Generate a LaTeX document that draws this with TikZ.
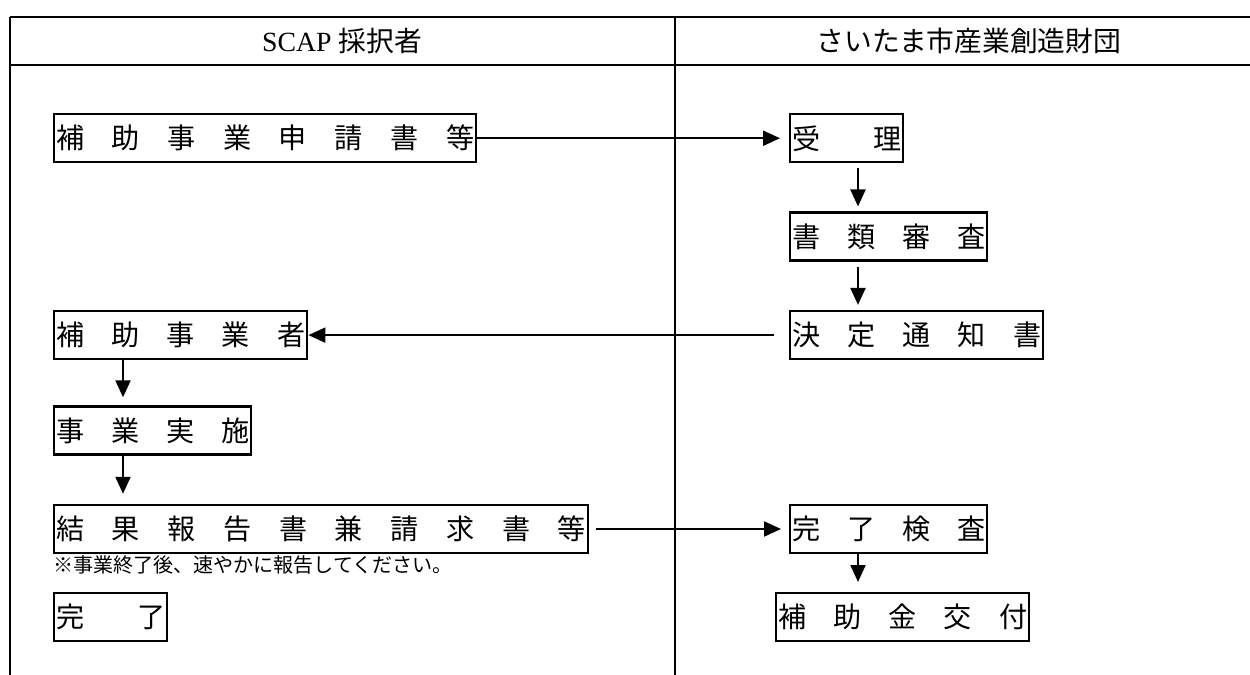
\documentclass[tikz,border=0pt]{standalone}
\usepackage{fontspec}
\setmainfont{Liberation Serif}
\newfontfamily\jp{Noto Sans CJK JP}
\usetikzlibrary{arrows.meta,positioning}
\newcommand{\spread}[2]{\makebox[#1][s]{#2}}
\tikzset{
	stepbox/.style={
		draw,
		line width=1.4pt,
		minimum height=0.96cm,
		inner xsep=0.04cm,
		inner ysep=0pt,
		anchor=north west,
		font=\jp\fontsize{16pt}{18pt}\selectfont,
	},
	head/.style={
		font=\fontsize{15.8pt}{18pt}\selectfont,
	},
	memo/.style={
		anchor=west,
		inner sep=0pt,
		font=\jp\fontsize{11.4pt}{14pt}\selectfont,
	},
	arc/.style={
		-{Triangle[length=0.34cm,width=0.3cm]},
		line width=1.2pt,
	},
	frame/.style={
		line width=1.4pt,
	}
}

\begin{document}
\begin{tikzpicture}[x=0.02cm,y=-0.02cm]
	\useasboundingbox (0,0) rectangle (1250,675);
	% table
	\draw[frame] (10,17) -- (1250,17);
	\draw[frame] (10,65) -- (1250,65);
	\draw[frame] (10,17) -- (10,675);
	\draw[frame] (675,17) -- (675,675);
	\node[head] (lhead) at (342,41) {SCAP {\jp 採択者}};
	\node[head] (rhead) at (969,41) {\jp さいたま市産業創造財団};

	\coordinate (lcol) at (123,0);
	\coordinate (rcol) at (858,0);

	\node[stepbox] (apply) at (53,113) {\spread{8.36cm}{補 助 事 業 申 請 書 等}};
	\node[stepbox] (recv) at (789,113) {\spread{2.18cm}{受 理}};
	\node[
      stepbox,
      below=0.96cm of recv.south west,
      anchor=north west
    ] (review) {\spread{3.86cm}{書 類 審 査}};
	\node[
      stepbox,
      below=0.96cm of review.south west,
      anchor=north west
    ] (notice) {\spread{4.98cm}{決 定 通 知 書}};
	\node[stepbox] (grantee) at (notice.north -| apply.west) {\spread{4.98cm}{補 助 事 業 者}};
	\node[
      stepbox,
      below=0.9cm of grantee.south west,
      anchor=north west
    ] (work) {\spread{3.86cm}{事 業 実 施}};
	\node[
      stepbox,
      below=0.96cm of work.south west,
      anchor=north west
    ] (report) {\spread{10.6cm}{結 果 報 告 書 兼 請 求 書 等}};
	\node[stepbox] (inspect) at (report.north -| recv.west) {\spread{3.86cm}{完 了 検 査}};
	\node[memo] (note) at (53,565) {※事業終了後、速やかに報告してください。};
	\node[stepbox] (done) at (53,592) {\spread{2.18cm}{完 了}};
	\node[stepbox] (pay) at (775,592) {\spread{4.98cm}{補 助 金 交 付}};

	\draw[arc,shorten >=0.18cm] (apply.east) -- (recv.west);
	\draw[arc,shorten <=0.1cm,shorten >=0.1cm] (recv.south -| rcol) -- (review.north -| rcol);
	\draw[arc,shorten <=0.1cm,shorten >=0.1cm] (review.south -| rcol) -- (notice.north -| rcol);
	\draw[arc,shorten <=0.3cm] (notice.west) -- (grantee.east);
	\draw[arc,shorten >=0.16cm] (grantee.south -| lcol) -- (work.north -| lcol);
	\draw[arc,shorten >=0.2cm] (work.south -| lcol) -- (report.north -| lcol);
	\draw[arc,shorten <=0.14cm,shorten >=0.16cm] (report.east) -- (inspect.west);
	\draw[arc,shorten >=0.2cm] (inspect.south -| rcol) -- (pay.north -| rcol);
\end{tikzpicture}
\end{document}
